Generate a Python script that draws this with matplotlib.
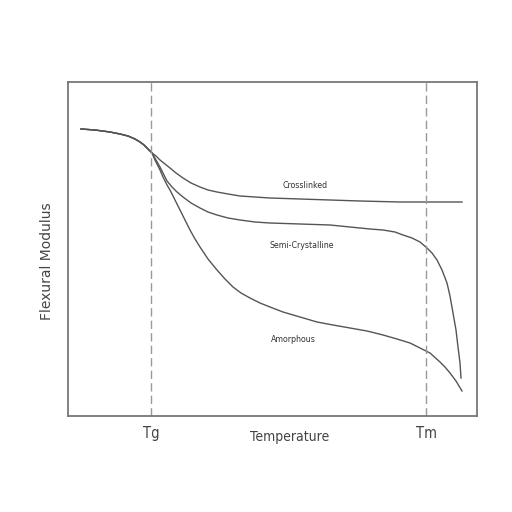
import numpy as np
import matplotlib.pyplot as plt

# curve points (x = temperature, y = modulus, arbitrary units)
common_x = [81, 95, 110, 120, 128, 135, 140, 144, 148, 152]
common_y = [383, 382, 380, 378, 376, 373, 370, 367, 363, 359]

cross_x = [156, 160, 165, 170, 176, 183, 191, 200, 208, 217, 228, 240, 255,
           270, 300, 330, 360, 400, 462]
cross_y = [356, 352, 348, 344, 339, 334, 329, 325, 322, 320, 318, 316, 315,
           314, 313, 312, 311, 310, 310]

semi_x = [156, 160, 163, 167, 172, 177, 183, 191, 200, 208, 217, 228, 240, 255,
          270, 300, 330, 350, 370, 383, 395, 403, 412, 420, 427, 432, 437, 442,
          447, 450, 453, 456, 458, 460, 461]
semi_y = [352, 345, 339, 331, 325, 320, 315, 309, 304, 300, 297, 294, 292, 290,
          289, 288, 287, 285, 283, 282, 280, 277, 274, 270, 264, 259, 252, 242,
          229, 216, 199, 182, 165, 149, 134]

amor_x = [155, 158, 160, 163, 167, 170, 175, 180, 185, 190, 195, 200, 208, 217,
          225, 233, 241, 250, 260, 270, 283, 300, 317, 333, 350, 367, 383, 397,
          410, 420, 430, 440, 445, 450, 456, 462]
amor_y = [352, 346, 342, 335, 327, 322, 312, 302, 292, 282, 273, 265, 253, 242,
          233, 225, 219, 214, 209, 205, 200, 195, 190, 187, 184, 181, 177, 173,
          169, 164, 159, 150, 145, 139, 131, 121]

tg, tm = 151, 426
labels = {"Crosslinked": (305, 327), "Semi-Crystalline": (302, 267), "Amorphous": (293, 173)}

narrow = dict(family='DejaVu Sans', stretch='condensed')

fig = plt.figure(figsize=(5.12, 5.12), dpi=100)
ax = fig.add_axes([68/512, 96/512, 409/512, 334/512])

line_col = '#555555'
for xs, ys in [(cross_x, cross_y), (semi_x, semi_y), (amor_x, amor_y)]:
    ax.plot(common_x + xs, common_y + ys, color=line_col, lw=1.0)

for t in (tg, tm):
    ax.axvline(t, color='#999999', lw=1.0, ls=(0, (6, 3)))

for name, (x, y) in labels.items():
    ax.text(x, y, name, ha='center', va='center', fontsize=6.3, color='#333333', **narrow)

ax.set_xlim(68, 477)
ax.set_ylim(96, 430)
ax.set_xticks([tg, tm])
ax.set_xticklabels(['Tg', 'Tm'], fontsize=10.5, color='#444444', **narrow)
ax.tick_params(axis='x', length=0, pad=7)
ax.set_yticks([])
ax.set_xlabel('Temperature', fontsize=10, color='#444444', **narrow)
ax.xaxis.set_label_coords((290 - 68) / 409, -0.043, transform=ax.transAxes)
ax.xaxis.label.set_va('top')
ax.set_ylabel('Flexural Modulus', fontsize=10, color='#444444')
ax.yaxis.set_label_coords(-0.035, (512 - 261 - 96) / 334)
for s in ax.spines.values():
    s.set_color('#777777')
    s.set_linewidth(1.3)

fig.savefig('out.png', dpi=100)
